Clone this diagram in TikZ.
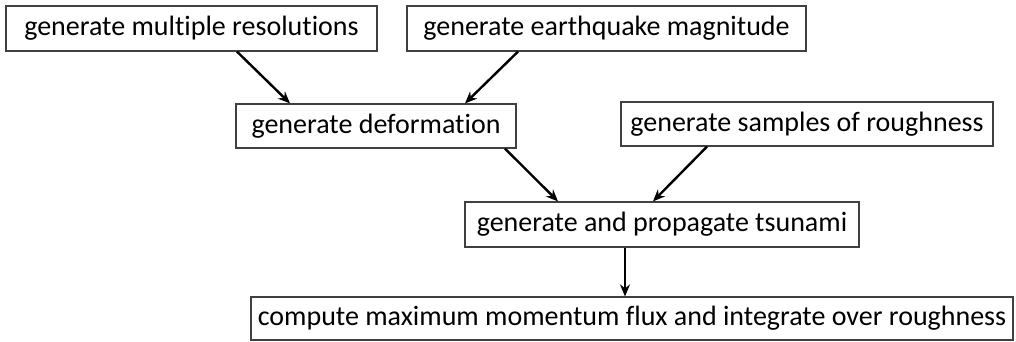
\documentclass[tikz,border=0pt]{standalone}
\usepackage{fontspec}
\setmainfont{Carlito}[Ligatures=NoCommon]
\usepackage{tikz}
\usetikzlibrary{arrows.meta}

\begin{document}
\begin{tikzpicture}[x=0.75pt, y=-0.75pt, font=\fontsize{21}{24}\selectfont,
		stepbox/.style={draw=black!75, line width=0.9pt, inner xsep=0pt, inner ysep=0pt, align=center},
		flow/.style={-{Stealth[length=9pt, width=7.5pt]}, line width=1.8pt}]
			
			\useasboundingbox (0,0) rectangle (1016,342);
			
			% Inputs
			\node[stepbox, minimum width=278.25pt, minimum height=33.75pt] (res) at (191.5, 28.5) {generate multiple resolutions};
			\node[stepbox, minimum width=299.25pt, minimum height=33.75pt] (mag) at (606.5, 28.5) {generate earthquake magnitude};
			
			% Deformation and roughness
			\node[stepbox, minimum width=210pt, minimum height=33pt] (def) at (376, 126) {generate deformation};
			\node[stepbox, minimum width=279pt, minimum height=33pt] (rough) at (807, 124) {generate samples of roughness};
			
			% Tsunami
			\node[stepbox, minimum width=295.5pt, minimum height=33.75pt] (tsu) at (662, 224.5) {generate and propagate tsunami};
			
			% Output
			\node[stepbox, minimum width=571.5pt, minimum height=32.25pt] (flux) at (632, 318.5) {compute maximum momentum flux and integrate over roughness};
			
			% Arrows
			\draw[flow] ([shift={(45.5,0)}]res.south) -- ([shift={(-86,0)}]def.north);
			\draw[flow] ([shift={(-88.5,0)}]mag.south) -- ([shift={(89,0)}]def.north);
			\draw[flow] ([shift={(129,0)}]def.south) -- ([shift={(-104,0)}]tsu.north);
			\draw[flow] ([shift={(-100,0)}]rough.south) -- ([shift={(-9,0)}]tsu.north);
			\draw[flow] ([shift={(-37,0)}]tsu.south) -- ([shift={(-37,0)}]tsu.south |- flux.north);
			
		\end{tikzpicture}
\end{document}
